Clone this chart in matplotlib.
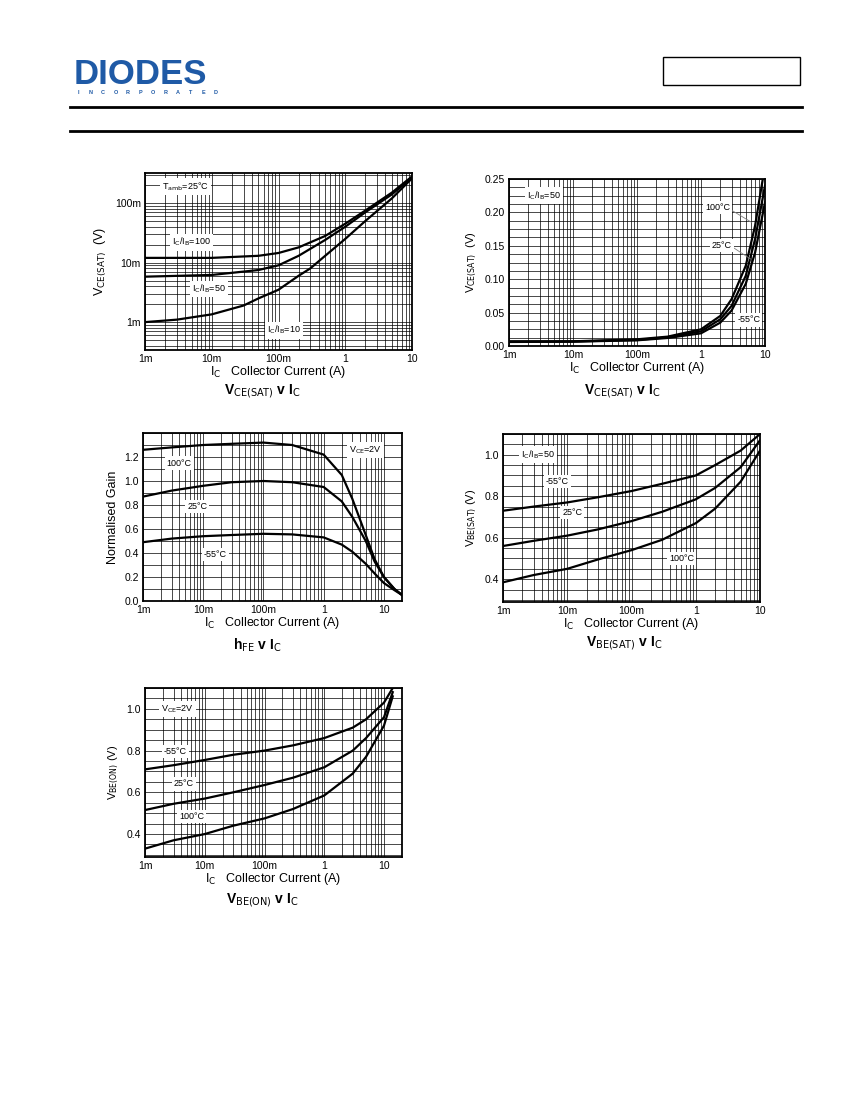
import matplotlib
matplotlib.use('Agg')
import matplotlib.pyplot as plt
import numpy as np
from matplotlib.ticker import FixedLocator, LogLocator, MultipleLocator, NullFormatter

plt.rcParams['font.family'] = ['Liberation Sans', 'DejaVu Sans']

# ---- data ----
# VCE(sat) v IC, Tamb=25C
vcs_x100 = [1e-3, 1e-2, 5e-2, 0.1, 0.2, 0.5, 1, 2, 5, 10]
vcs_100 = [12e-3, 12e-3, 13e-3, 14.5e-3, 18e-3, 28e-3, 45e-3, 75e-3, 150e-3, 280e-3]
vcs_50 = [5.8e-3, 6.2e-3, 7.5e-3, 9e-3, 13e-3, 24e-3, 40e-3, 70e-3, 140e-3, 270e-3]
vcs_x10 = [1e-3, 3e-3, 1e-2, 3e-2, 5e-2, 0.1, 0.2, 0.3, 0.5, 1, 2, 5, 10]
vcs_10 = [1e-3, 1.1e-3, 1.35e-3, 1.9e-3, 2.5e-3, 3.5e-3, 6e-3, 8e-3, 13e-3, 25e-3, 50e-3, 120e-3, 260e-3]

# VCE(sat) v IC, IC/IB=50 (linear)
vct_x = [1e-3, 1e-2, 0.1, 0.3, 1, 2, 3, 5, 7, 10]
vct_100 = [.007, .007, .010, .014, .025, .045, .07, .12, .18, .27]
vct_25 = [.0065, .0068, .009, .013, .022, .040, .06, .105, .16, .24]
vct_m55 = [.006, .0065, .0085, .012, .019, .035, .053, .093, .14, .215]

# hFE v IC
hfe_x = [1e-3, 3e-3, 1e-2, 3e-2, 0.1, 0.3, 1, 2, 3, 5, 7, 10, 15, 20]
hfe_100 = [1.26, 1.28, 1.30, 1.31, 1.32, 1.30, 1.22, 1.05, 0.85, 0.55, 0.35, 0.2, 0.1, 0.05]
hfe_25 = [.87, .92, .96, .99, 1.0, .99, .95, .83, .7, .5, .33, .2, .1, .05]
hfe_m55 = [.49, .52, .54, .55, .56, .555, .53, .47, .41, .31, .23, .15, .09, .05]

# VBE(sat) v IC
vbs_x = [1e-3, 3e-3, 1e-2, 3e-2, 0.1, 0.3, 1, 2, 5, 10]
vbs_m55 = [.73, .75, .77, .795, .825, .86, .90, .95, 1.02, 1.10]
vbs_25 = [.56, .585, .61, .64, .68, .725, .785, .84, .94, 1.07]
vbs_100 = [.385, .42, .45, .495, .54, .59, .67, .74, .87, 1.02]

# VBE(on) v IC
vbo_x = [1e-3, 3e-3, 1e-2, 3e-2, 0.1, 0.3, 1, 3, 5, 10, 14]
vbo_m55 = [.71, .73, .755, .78, .80, .825, .86, .91, .95, 1.03, 1.10]
vbo_25 = [.515, .545, .57, .60, .635, .67, .72, .80, .86, .96, 1.08]
vbo_100 = [.33, .37, .40, .44, .475, .52, .585, .69, .77, .92, 1.06]

x_ticks = [1e-3, 1e-2, 0.1, 1, 10]
x_labels = ['1m', '10m', '100m', '1', '10']

W, H = 850, 1100
fig = plt.figure(figsize=(8.5, 11), dpi=100)


def make_ax(x0, y0, x1, y1):
    return fig.add_axes([x0 / W, 1 - y1 / H, (x1 - x0) / W, (y1 - y0) / H])


def style(ax, xmax, title, title_xy, ylabel, ylabel_size=9):
    ax.set_xscale('log')
    ax.set_xlim(1e-3, xmax)
    ax.xaxis.set_major_locator(FixedLocator(x_ticks))
    ax.set_xticklabels(x_labels)
    ax.xaxis.set_minor_locator(LogLocator(base=10, subs=np.arange(2, 10)))
    ax.xaxis.set_minor_formatter(NullFormatter())
    ax.grid(True, which='both', color='black', lw=0.5)
    ax.set_axisbelow(True)
    ax.tick_params(which='both', length=0, labelsize=7.5, pad=3)
    for s in ax.spines.values():
        s.set_linewidth(1.3)
    ax.set_xlabel(r'I$_\mathrm{C}$   Collector Current (A)', fontsize=9, labelpad=0)
    ax.set_ylabel(ylabel, fontsize=ylabel_size)
    fig.text(title_xy[0] / W, 1 - title_xy[1] / H, title, fontsize=10,
             fontweight='bold', ha='center', va='center')


def label(ax, x, y, s):
    ax.text(x, y, s, fontsize=6.5, ha='center', va='center',
            bbox=dict(fc='white', ec='none', pad=1.5))


# header
fig.text(74 / W, 1 - 74 / H, 'DIODES', fontsize=25, fontweight='bold',
         color='#1f5aa6', va='center')
for i, ch in enumerate('INCORPORATED'):
    fig.text((78 + i * 12.5) / W, 1 - 92 / H, ch, fontsize=4, fontweight='bold',
             color='#1f5aa6', va='center', ha='center')
fig.patches.append(plt.Rectangle((663 / W, 1 - 85 / H), 137 / W, 28 / H,
                                 transform=fig.transFigure, fill=False, lw=1, ec='black'))
for yy in (107, 131):
    fig.add_artist(plt.Line2D([70 / W, 802 / W], [1 - yy / H] * 2, color='black', lw=2))

lw = 1.6

# chart 1
ax = make_ax(145, 173, 412, 350)
ax.plot(vcs_x100, vcs_100, color='black', lw=lw)
ax.plot(vcs_x100, vcs_50, color='black', lw=lw)
ax.plot(vcs_x10, vcs_10, color='black', lw=lw)
ax.set_yscale('log')
ax.set_ylim(0.34e-3, 0.32)
ax.yaxis.set_major_locator(FixedLocator([1e-3, 1e-2, 0.1]))
ax.set_yticklabels(['1m', '10m', '100m'])
ax.yaxis.set_minor_locator(LogLocator(base=10, subs=np.arange(2, 10)))
ax.yaxis.set_minor_formatter(NullFormatter())
style(ax, 10, r'V$_\mathrm{CE(SAT)}$ v I$_\mathrm{C}$', (262, 391), r'V$_\mathrm{CE(SAT)}$  (V)')
label(ax, 4e-3, 0.19, r'T$_\mathrm{amb}$=25°C')
label(ax, 5e-3, 0.022, r'I$_\mathrm{C}$/I$_\mathrm{B}$=100')
label(ax, 9e-3, 3.6e-3, r'I$_\mathrm{C}$/I$_\mathrm{B}$=50')
label(ax, 0.12, 0.73e-3, r'I$_\mathrm{C}$/I$_\mathrm{B}$=10')

# chart 2
ax = make_ax(509, 179, 765, 346)
ax.plot(vct_x, vct_100, color='black', lw=lw)
ax.plot(vct_x, vct_25, color='black', lw=lw)
ax.plot(vct_x, vct_m55, color='black', lw=lw)
ax.set_ylim(0, 0.25)
ax.yaxis.set_major_locator(MultipleLocator(0.05))
ax.yaxis.set_minor_locator(MultipleLocator(0.0125))
ax.yaxis.set_major_formatter(matplotlib.ticker.FormatStrFormatter('%.2f'))
style(ax, 10, r'V$_\mathrm{CE(SAT)}$ v I$_\mathrm{C}$', (622, 391), r'V$_\mathrm{CE(SAT)}$  (V)', 8)
label(ax, 3.5e-3, 0.225, r'I$_\mathrm{C}$/I$_\mathrm{B}$=50')
label(ax, 1.8, 0.207, '100°C')
label(ax, 2.1, 0.15, '25°C')
label(ax, 5.6, 0.039, '-55°C')
ax.plot([2.8, 6.2], [0.205, 0.185], color='gray', lw=0.6)
ax.plot([2.9, 6.0], [0.15, 0.13], color='gray', lw=0.6)
ax.plot([3.8, 4.6], [0.041, 0.045], color='gray', lw=0.6)

# chart 3
ax = make_ax(143, 433, 402, 601)
ax.plot(hfe_x, hfe_100, color='black', lw=lw)
ax.plot(hfe_x, hfe_25, color='black', lw=lw)
ax.plot(hfe_x, hfe_m55, color='black', lw=lw)
ax.set_ylim(0, 1.4)
ax.yaxis.set_major_locator(FixedLocator([0, 0.2, 0.4, 0.6, 0.8, 1.0, 1.2]))
ax.yaxis.set_minor_locator(MultipleLocator(0.1))
ax.yaxis.set_major_formatter(matplotlib.ticker.FormatStrFormatter('%.1f'))
style(ax, 20, r'h$_\mathrm{FE}$ v I$_\mathrm{C}$', (257, 645), 'Normalised Gain', 9)
label(ax, 4e-3, 1.15, '100°C')
label(ax, 8e-3, 0.79, '25°C')
label(ax, 0.016, 0.39, '-55°C')
label(ax, 5, 1.26, r'V$_\mathrm{CE}$=2V')

# chart 4
ax = make_ax(503, 434, 760, 602)
ax.plot(vbs_x, vbs_m55, color='black', lw=lw)
ax.plot(vbs_x, vbs_25, color='black', lw=lw)
ax.plot(vbs_x, vbs_100, color='black', lw=lw)
ax.set_ylim(0.29, 1.10)
ax.yaxis.set_major_locator(MultipleLocator(0.2))
ax.yaxis.set_minor_locator(MultipleLocator(0.05))
ax.yaxis.set_major_formatter(matplotlib.ticker.FormatStrFormatter('%.1f'))
style(ax, 10, r'V$_\mathrm{BE(SAT)}$ v I$_\mathrm{C}$', (624, 643), r'V$_\mathrm{BE(SAT)}$ (V)', 8)
label(ax, 3.5e-3, 1.0, r'I$_\mathrm{C}$/I$_\mathrm{B}$=50')
label(ax, 7e-3, 0.87, '-55°C')
label(ax, 0.012, 0.72, '25°C')
label(ax, 0.6, 0.50, '100°C')

# chart 5
ax = make_ax(145, 688, 402, 857)
ax.plot(vbo_x, vbo_m55, color='black', lw=lw)
ax.plot(vbo_x, vbo_25, color='black', lw=lw)
ax.plot(vbo_x, vbo_100, color='black', lw=lw)
ax.set_ylim(0.29, 1.10)
ax.yaxis.set_major_locator(MultipleLocator(0.2))
ax.yaxis.set_minor_locator(MultipleLocator(0.05))
ax.yaxis.set_major_formatter(matplotlib.ticker.FormatStrFormatter('%.1f'))
style(ax, 20, r'V$_\mathrm{BE(ON)}$ v I$_\mathrm{C}$', (262, 900), r'V$_\mathrm{BE(ON)}$ (V)', 8)
label(ax, 3.5e-3, 1.0, r'V$_\mathrm{CE}$=2V')
label(ax, 3.2e-3, 0.795, '-55°C')
label(ax, 4.5e-3, 0.64, '25°C')
label(ax, 6e-3, 0.485, '100°C')

fig.savefig('out.png', dpi=100)
